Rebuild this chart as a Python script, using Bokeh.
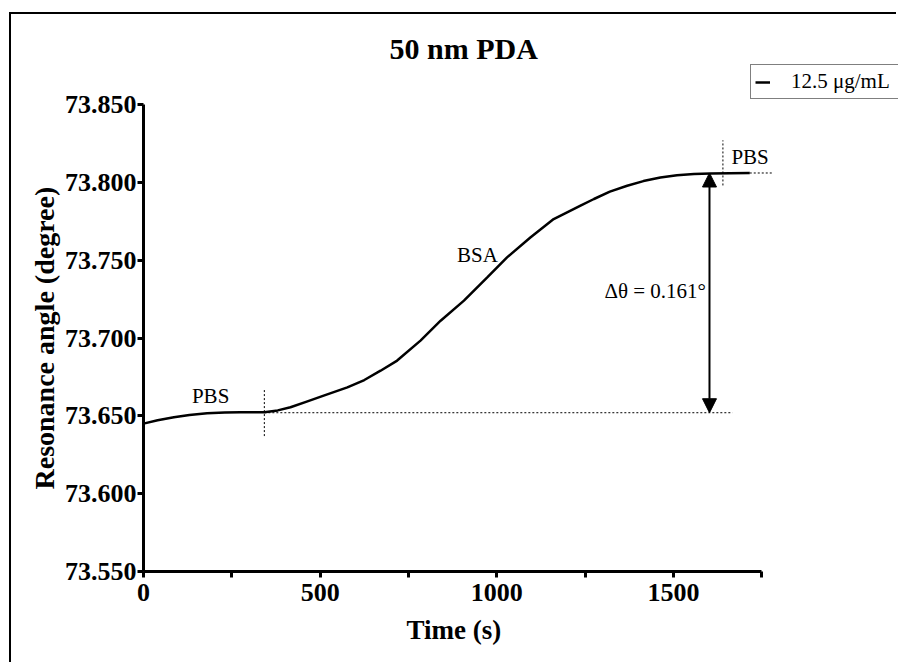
from bokeh.plotting import figure
from bokeh.models import (Range1d, FixedTicker, PrintfTickFormatter, Arrow, NormalHead,
                          Legend, LegendItem, Label, Title)
from bokeh.embed import file_html
from bokeh.resources import INLINE

# SPR sensorgram: 50 nm PDA film, BSA adsorption at 12.5 ug/mL
time_s = [0, 40, 86, 130, 180, 230, 275, 342, 380, 416, 460, 510, 577, 625, 671, 718,
          784, 841, 907, 973, 1029, 1095, 1161, 1237, 1275, 1320, 1369, 1415, 1463,
          1510, 1558, 1605, 1660, 1716]
angle_deg = [73.645, 73.6472, 73.6491, 73.6506, 73.6516, 73.6521, 73.6523, 73.6523,
             73.6535, 73.6555, 73.6590, 73.6630, 73.6683, 73.6730, 73.6790, 73.6855,
             73.6983, 73.7111, 73.7240, 73.7389, 73.7518, 73.7646, 73.7764, 73.7850,
             73.7893, 73.7940, 73.7978, 73.8008, 73.8031, 73.8045, 73.8053, 73.8057,
             73.8059, 73.806]

series_label = "12.5 μg/mL"
x_ticks = [0, 500, 1000, 1500]
x_minor_ticks = [250, 750, 1250, 1750]
y_ticks = [73.55, 73.60, 73.65, 73.70, 73.75, 73.80, 73.85]

# injection switch times (PBS -> BSA, BSA -> PBS) and plateau levels
switch_times = [342, 1640]
baseline_level = 73.652
final_level = angle_deg[-1]
delta_theta = angle_deg[-1] - angle_deg[0]
arrow_time = 1602

SERIF = "Liberation Serif"

# the frame runs to the right edge so the legend box is not clipped;
# the axes themselves stop at their bounds
p = figure(width=887, height=650, output_backend="svg", toolbar_location=None,
           x_range=Range1d(0, 2137), y_range=Range1d(73.55, 73.8757),
           min_border_left=132, min_border_right=0, min_border_top=50,
           min_border_bottom=93, background_fill_color="white",
           border_fill_color="white", outline_line_color=None)
p.styles = {"margin-left": "9px", "margin-top": "12px",
            "border-left": "2px solid black", "border-top": "2px solid black"}

p.xgrid.visible = False
p.ygrid.visible = False

p.title.text = "50 nm PDA"
p.title.align = "left"
p.title.offset = 246
p.title.text_color = "black"
p.title.text_font = SERIF
p.title.text_font_style = "bold"
p.title.text_font_size = "30px"
p.title.standoff = 0

# axes
xa = p.xaxis[0]
xa.ticker = FixedTicker(ticks=x_ticks, minor_ticks=x_minor_ticks)
xa.bounds = (0, 1750)
ya = p.yaxis[0]
ya.ticker = FixedTicker(ticks=y_ticks)
ya.bounds = (73.55, 73.85)
ya.formatter = PrintfTickFormatter(format="%.3f")
for ax in (xa, ya):
    ax.axis_line_width = 3
    ax.axis_line_color = "black"
    ax.major_tick_line_width = 3
    ax.minor_tick_line_width = 3
    ax.major_tick_in = 0
    ax.major_tick_out = 6
    ax.minor_tick_in = 0
    ax.minor_tick_out = 6
    ax.major_label_text_font = SERIF
    ax.major_label_text_font_style = "bold"
    ax.major_label_text_font_size = "26px"
    ax.major_label_text_color = "black"
ya.minor_tick_out = 0
xa.major_label_standoff = 6
ya.major_label_standoff = 1

# axis titles, placed along the axis extents rather than the wider frame
p.add_layout(Title(text="Time (s)", align="left", offset=263, standoff=18,
                   text_font=SERIF, text_font_style="bold", text_font_size="27px",
                   text_color="black"), "below")
p.add_layout(Title(text="Resonance angle (degree)", align="left", offset=82,
                   standoff=3, text_font=SERIF, text_font_style="bold",
                   text_font_size="28px", text_color="black"), "left")

# sensorgram
curve = p.line(time_s, angle_deg, line_width=2.5, line_color="black")

# dotted guides marking the injection switches and plateaus
dot = dict(line_color="black", line_width=1, line_dash="2 2")
p.line([switch_times[0], 1667], [baseline_level, baseline_level], **dot)
p.line([time_s[-1], 1783], [final_level, final_level], **dot)
p.line([switch_times[0], switch_times[0]], [73.637, 73.667], **dot)
p.line([switch_times[1], switch_times[1]], [73.798, 73.827], **dot)

# double-headed arrow for the angle shift
p.add_layout(Arrow(x_start=arrow_time, y_start=baseline_level,
                   x_end=arrow_time, y_end=final_level,
                   line_width=2, line_color="black",
                   start=NormalHead(size=14, fill_color="black", line_color="black"),
                   end=NormalHead(size=14, fill_color="black", line_color="black")))

lab = dict(text_font=SERIF, text_font_size="21px", text_color="black",
           text_align="center", text_baseline="middle")
p.add_layout(Label(x=190, y=73.663, text="PBS", **lab))
p.add_layout(Label(x=945, y=73.7535, text="BSA", **lab))
p.add_layout(Label(x=1717, y=73.8164, text="PBS", **lab))
lab_r = dict(lab, text_align="right")
p.add_layout(Label(x=1592, y=73.7304, text=f"Δθ = {delta_theta:.3f}°", **lab_r))

legend = Legend(items=[LegendItem(label=series_label, renderers=[curve])],
                location=(607, 472), orientation="vertical",
                border_line_color="black", border_line_width=1,
                background_fill_color="white", background_fill_alpha=1,
                padding=4, spacing=0, margin=0,
                glyph_width=15, glyph_height=20, label_standoff=21,
                label_width=103, label_height=20,
                label_text_font=SERIF, label_text_font_size="21px",
                label_text_color="black")
p.add_layout(legend, "center")

open("out.html", "w").write(file_html(p, INLINE))
